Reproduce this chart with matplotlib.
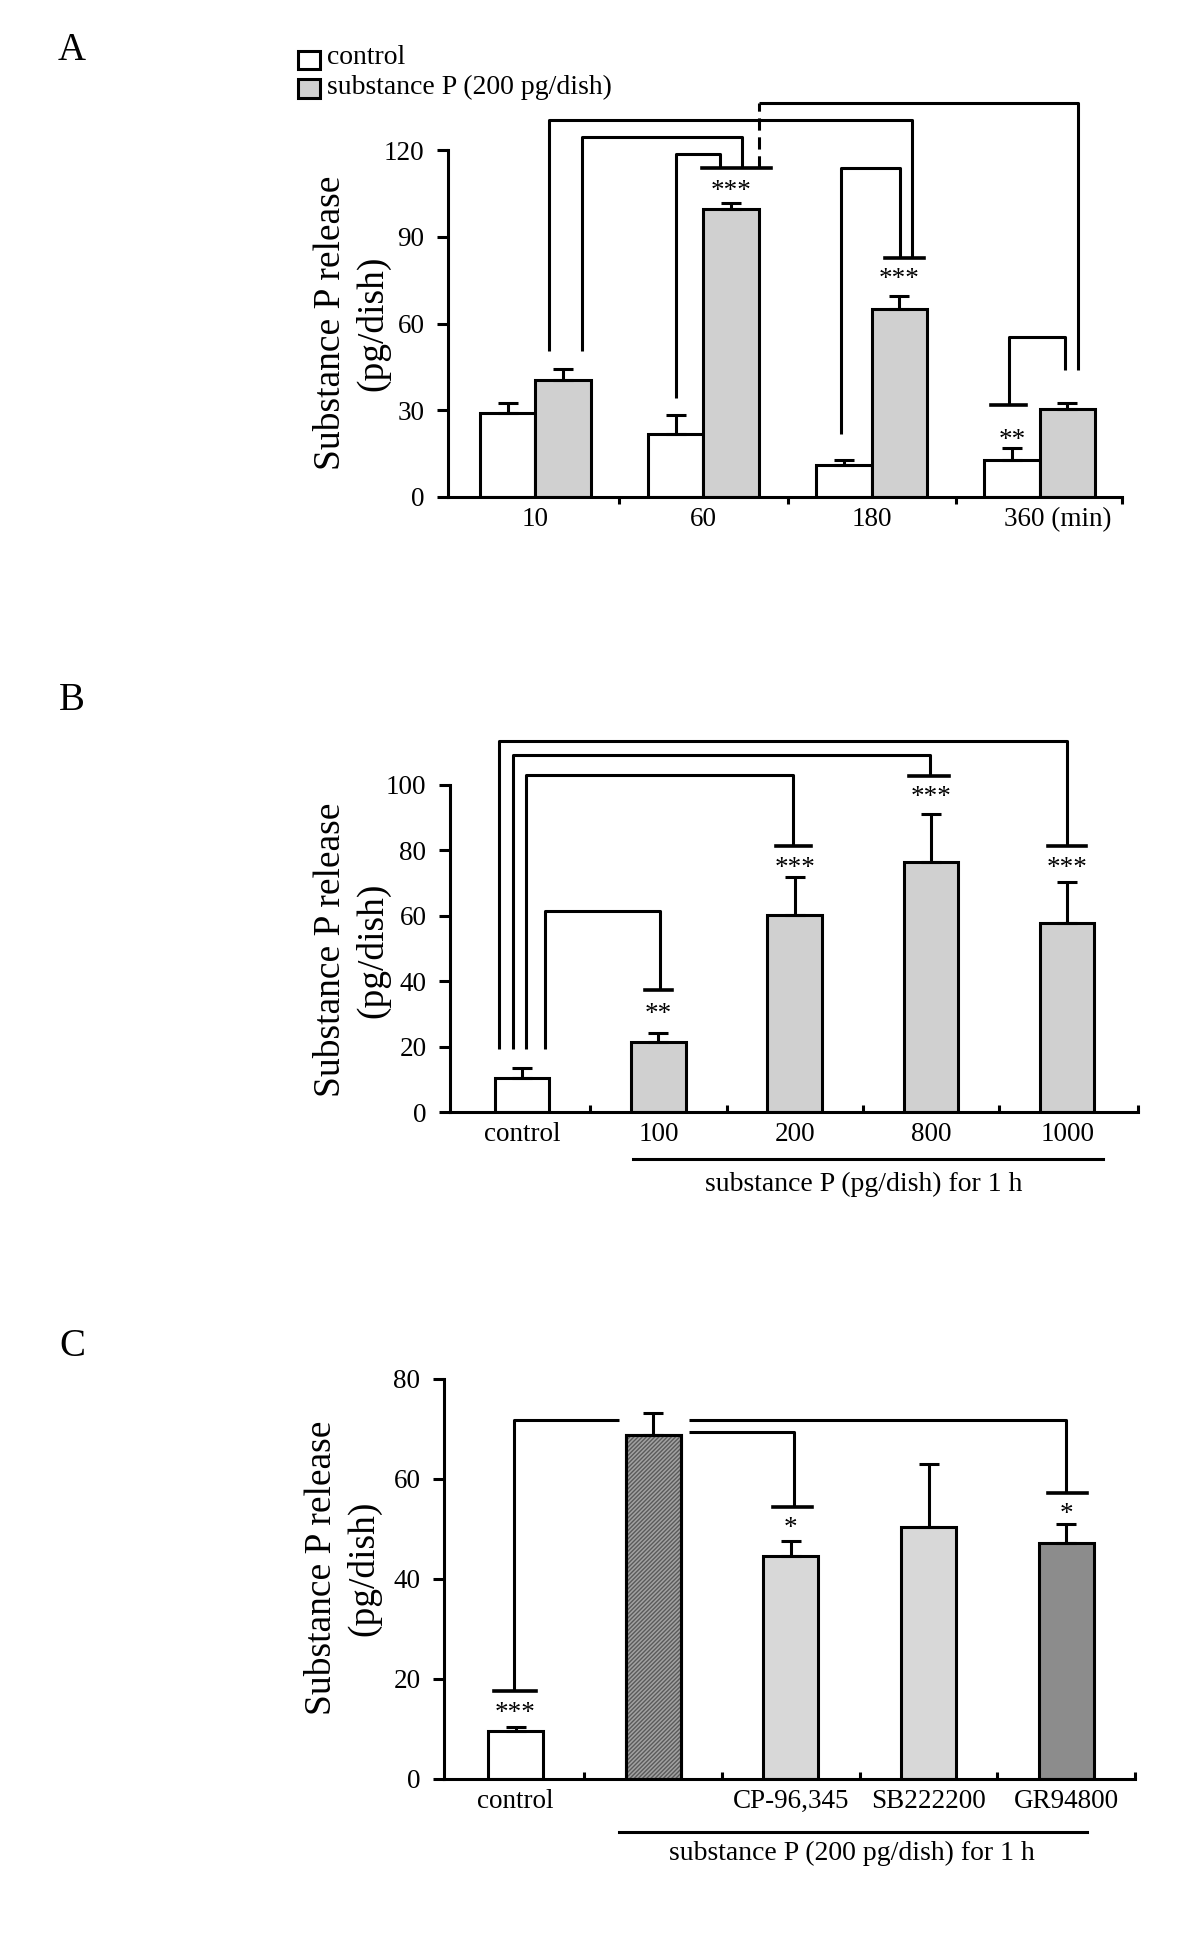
import matplotlib.pyplot as plt
from matplotlib.patches import Rectangle
from matplotlib.transforms import ScaledTranslation

plt.rcParams['font.family'] = ['Liberation Serif', 'DejaVu Serif']
plt.rcParams['hatch.linewidth'] = 1.0

LW = 2.2
TICK_FS = 19.5
TEXT_FS = 20

# ---- data ----
# Panel A: time course (min)
times = ['10', '60', '180', '360 (min)']
ctrl_a = [29.2, 21.9, 11.1, 12.8]
ctrl_a_err = [3.3, 6.5, 1.8, 4.1]
sp_a = [40.4, 99.7, 65.1, 30.6]
sp_a_err = [4.0, 1.8, 4.5, 1.9]

# Panel B: dose response
doses = ['control', '100', '200', '800', '1000']
dose_vals = [10.3, 21.4, 60.1, 76.5, 57.8]
dose_err = [3.2, 2.9, 11.7, 14.7, 12.6]

# Panel C: antagonists
treatments = ['control', '', 'CP-96,345', 'SB222200', 'GR94800']
treat_vals = [9.6, 68.9, 44.7, 50.5, 47.2]
treat_err = [0.9, 4.4, 3.0, 12.6, 3.8]

# significance brackets (x list, y list), caps (x1, x2, y), stars (x, y, text)
brackets_a = [
    ([0.08, 0.08, 2.24, 2.24], [50.6, 130.5, 130.5, 82.7]),
    ([0.28, 0.28, 1.23, 1.23], [50.6, 124.6, 124.6, 113.7]),
    ([0.835, 0.835, 1.10, 1.10], [34.1, 118.6, 118.6, 113.7]),
    ([1.33, 3.23, 3.23], [136.2, 136.2, 44.0]),
    ([1.82, 1.82, 2.17, 2.17], [21.8, 113.7, 113.7, 82.7]),
    ([2.82, 2.82, 3.15, 3.15], [31.7, 55.2, 55.2, 44.0]),
]
dashed_a = ([1.33, 1.33], [113.7, 136.2])
caps_a = [(0.99, 1.40, 113.7), (2.08, 2.31, 82.7), (2.71, 2.92, 31.7)]
stars_a = [(1.165, 108.7, '***'), (2.165, 78.3, '***'), (2.835, 22.8, '**')]

brackets_b = [
    ([-0.17, -0.17, 4.0, 4.0], [19.3, 113.5, 113.5, 81.3]),
    ([-0.07, -0.07, 2.99, 2.99], [19.3, 109.1, 109.1, 102.9]),
    ([0.03, 0.03, 1.99, 1.99], [19.3, 103.2, 103.2, 81.3]),
    ([0.17, 0.17, 1.01, 1.01], [19.3, 61.4, 61.4, 37.2]),
]
caps_b = [(3.86, 4.14, 81.3), (2.84, 3.13, 102.9), (1.86, 2.12, 81.3), (0.90, 1.10, 37.2)]
stars_b = [(1, 32.7, '**'), (2, 77.2, '***'), (3, 98.8, '***'), (4, 77.2, '***')]

brackets_c = [
    ([-0.01, -0.01, 0.75], [17.7, 71.8, 71.8]),
    ([1.26, 4.0, 4.0], [71.8, 71.8, 57.2]),
    ([1.26, 2.02, 2.02], [69.5, 69.5, 54.5]),
]
caps_c = [(-0.16, 0.15, 17.7), (1.87, 2.15, 54.5), (3.87, 4.15, 57.2)]
stars_c = [(0, 14.8, '***'), (2, 51.9, '*'), (4, 54.7, '*')]

fig = plt.figure(figsize=(12, 19.48), dpi=100)
H = 1948.0


def add_ax(left, right, bottom, top):
    return fig.add_axes([left / 1200, 1 - bottom / H, (right - left) / 1200, (bottom - top) / H])


def style(ax, ymax, yticks, xlim, ticks, labels, tickdir):
    for s in ['top', 'right']:
        ax.spines[s].set_visible(False)
    for s in ['left', 'bottom']:
        ax.spines[s].set_linewidth(LW)
    ax.set_ylim(0, ymax)
    ax.set_yticks(yticks)
    ax.set_xlim(*xlim)
    ax.set_xticks(ticks)
    ax.set_xticklabels(labels)
    bounds = [t + 0.5 for t in ticks[:-1]] + [xlim[1]]
    ax.set_xticks(bounds, minor=True)
    ax.tick_params(axis='y', length=8, width=LW, pad=9, labelsize=TICK_FS)
    ax.tick_params(axis='x', which='major', length=0, pad=7, labelsize=TICK_FS)
    ax.tick_params(axis='x', which='minor', length=5, width=LW, direction=tickdir)


def annotate(ax, brackets, caps, stars):
    for xs, ys in brackets:
        ax.plot(xs, ys, color='black', lw=LW, clip_on=False, solid_capstyle='butt')
    for x1, x2, y in caps:
        ax.plot([x1, x2], [y, y], color='black', lw=LW + 0.4, clip_on=False)
    off = ax.transData + ScaledTranslation(0, -0.09, fig.dpi_scale_trans)
    for x, y, t in stars:
        ax.text(x, y, t, ha='center', va='center', fontsize=TICK_FS, transform=off)


def ylabel(xc, yc):
    fig.text(xc / 1200, 1 - yc / H, 'Substance P release\n(pg/dish)', rotation=90,
             ha='center', va='center', multialignment='center', fontsize=27, linespacing=1.3)


# ---- Panel A ----
axA = add_ax(448, 1122, 497, 150)
xa = list(range(len(times)))
w = 0.33
axA.bar([x - w / 2 for x in xa], ctrl_a, w, color='white', edgecolor='black', lw=LW, zorder=2)
axA.bar([x + w / 2 for x in xa], sp_a, w, color='#d0d0d0', edgecolor='black', lw=LW, zorder=2)
axA.errorbar([x - w / 2 for x in xa], ctrl_a, yerr=[[0] * 4, ctrl_a_err], fmt='none',
             ecolor='black', elinewidth=LW, capsize=7, capthick=LW, zorder=3)
axA.errorbar([x + w / 2 for x in xa], sp_a, yerr=[[0] * 4, sp_a_err], fmt='none',
             ecolor='black', elinewidth=LW, capsize=7, capthick=LW, zorder=3)
style(axA, 120, [0, 30, 60, 90, 120], (-0.52, 3.49), xa, times, 'out')
last = axA.get_xticklabels()[-1]
last.set_transform(last.get_transform() + ScaledTranslation(0.18, 0, fig.dpi_scale_trans))
annotate(axA, brackets_a, caps_a, stars_a)
axA.plot(*dashed_a, color='black', lw=LW, ls=(0, (4, 2.2)), clip_on=False)
ylabel(352, 323)
fig.text(72 / 1200, 1 - 50 / H, 'A', fontsize=28, ha='center', va='center')

# legend
fig.patches.append(Rectangle((298 / 1200, 1 - 69 / H), 22 / 1200, 18 / H, transform=fig.transFigure,
                             facecolor='white', edgecolor='black', lw=LW))
fig.patches.append(Rectangle((298 / 1200, 1 - 98 / H), 22 / 1200, 19 / H, transform=fig.transFigure,
                             facecolor='#d0d0d0', edgecolor='black', lw=LW))
fig.text(327 / 1200, 1 - 58 / H, 'control', fontsize=TEXT_FS, ha='left', va='center')
fig.text(327 / 1200, 1 - 87 / H, 'substance P (200 pg/dish)', fontsize=TEXT_FS, ha='left', va='center')

# ---- Panel B ----
axB = add_ax(450, 1138, 1112, 785)
xb = list(range(len(doses)))
wb = 0.4
axB.bar(xb, dose_vals, wb, color=['white'] + ['#d0d0d0'] * 4, edgecolor='black', lw=LW, zorder=2)
axB.errorbar(xb, dose_vals, yerr=[[0] * 5, dose_err], fmt='none', ecolor='black',
             elinewidth=LW, capsize=7, capthick=LW, zorder=3)
style(axB, 100, [0, 20, 40, 60, 80, 100], (-0.53, 4.52), xb, doses, 'in')
annotate(axB, brackets_b, caps_b, stars_b)
axB.plot([0.81, 4.26], [-14.4, -14.4], color='black', lw=LW, clip_on=False)
axB.text(2.51, -22.0, 'substance P (pg/dish) for 1 h', fontsize=TEXT_FS, ha='center', va='center')
ylabel(352, 950)
fig.text(72 / 1200, 1 - 701 / H, 'B', fontsize=28, ha='center', va='center')

# ---- Panel C ----
axC = add_ax(444, 1135, 1779, 1379)
xc = list(range(len(treatments)))
colors_c = ['white', '#a2a2a2', '#d8d8d8', '#d8d8d8', '#8c8c8c']
axC.bar(xc, treat_vals, wb, color=colors_c, edgecolor='black', lw=LW, zorder=2)
# fine diagonal texture on the substance P bar
axC.bar(xc[1], treat_vals[1], wb, fill=False, edgecolor='#5a5a5a', hatch='/' * 8, lw=0, zorder=2.5)
axC.bar(xc[1], treat_vals[1], wb, fill=False, edgecolor='black', lw=LW, zorder=2.6)
axC.errorbar(xc, treat_vals, yerr=[[0] * 5, treat_err], fmt='none', ecolor='black',
             elinewidth=LW, capsize=7, capthick=LW, zorder=3)
style(axC, 80, [0, 20, 40, 60, 80], (-0.52, 4.50), xc, treatments, 'in')
annotate(axC, brackets_c, caps_c, stars_c)
axC.plot([0.75, 4.15], [-10.5, -10.5], color='black', lw=LW, clip_on=False)
axC.text(2.44, -14.8, 'substance P (200 pg/dish) for 1 h', fontsize=TEXT_FS, ha='center', va='center')
ylabel(343, 1568)
fig.text(72 / 1200, 1 - 1347 / H, 'C', fontsize=28, ha='center', va='center')

fig.savefig('out.png', dpi=100)
